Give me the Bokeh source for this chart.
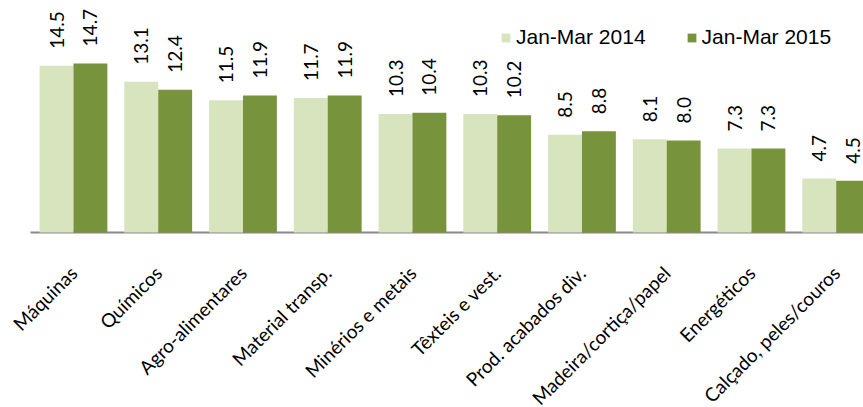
import math
from bokeh.plotting import figure
from bokeh.models import ColumnDataSource, Range1d, Legend, LegendItem
from bokeh.core.properties import value
from bokeh.embed import file_html
from bokeh.resources import INLINE

categories = ["Máquinas", "Químicos", "Agro-alimentares", "Material transp.",
              "Minérios e metais", "Têxteis e vest.", "Prod. acabados div.",
              "Madeira/cortiça/papel", "Energéticos", "Calçado, peles/couros"]
series_names = ["Jan-Mar 2014", "Jan-Mar 2015"]
values_2014 = [14.5, 13.1, 11.5, 11.7, 10.3, 10.3, 8.5, 8.1, 7.3, 4.7]
values_2015 = [14.7, 12.4, 11.9, 11.9, 10.4, 10.2, 8.8, 8.0, 7.3, 4.5]

LIGHT = "#D7E4BD"
DARK = "#77933C"
BAR_W = 0.40
AXIS_START, AXIS_END = -0.507, 9.322
idx = list(range(len(categories)))

src14 = ColumnDataSource(dict(x=[i - BAR_W / 2 for i in idx], top=values_2014,
                              label=[f"{v:.1f}" for v in values_2014]))
src15 = ColumnDataSource(dict(x=[i + BAR_W / 2 for i in idx], top=values_2015,
                              label=[f"{v:.1f}" for v in values_2015]))
cat_src = ColumnDataSource(dict(x=idx, y=[0] * len(idx), name=categories))

p = figure(width=863, height=407, output_backend="svg", toolbar_location=None,
           x_range=Range1d(-0.861, AXIS_END), y_range=Range1d(-15.22, 20.17),
           x_axis_location=None, y_axis_location=None,
           min_border_left=0, min_border_right=0,
           min_border_top=0, min_border_bottom=0)
p.outline_line_color = None
p.xgrid.visible = False
p.ygrid.visible = False
p.background_fill_color = "white"

# category axis baseline
p.segment(x0=[AXIS_START], y0=[0], x1=[AXIS_END], y1=[0],
          line_color="#898989", line_width=2, level="underlay")

r14 = p.vbar(x="x", top="top", width=BAR_W, bottom=0, source=src14,
             fill_color=LIGHT, line_color=None)
r15 = p.vbar(x="x", top="top", width=BAR_W, bottom=0, source=src15,
             fill_color=DARK, line_color=None)

for s in (src14, src15):
    p.text(x="x", y="top", text="label", source=s, angle=math.pi / 2,
           y_offset=-17, text_align="left", text_baseline="middle",
           text_font=value("Lato"), text_font_size="19px", text_color="#000000")

# category tick labels
p.text(x="x", y="y", text="name", source=cat_src, angle=math.pi / 4,
       x_offset=0, y_offset=37, text_align="right", text_baseline="middle",
       text_font=value("Lato"), text_font_size="19px", text_color="#000000")

legend = Legend(items=[LegendItem(label=series_names[0], renderers=[r14]),
                       LegendItem(label=series_names[1], renderers=[r15])],
                orientation="horizontal", location=(500, 358),
                glyph_width=11, glyph_height=11, label_standoff=5, spacing=40,
                padding=0, margin=0, border_line_color=None,
                background_fill_alpha=0,
                label_text_font="Liberation Sans", label_text_font_size="21px",
                label_text_color="#000000")
p.add_layout(legend, "center")

open("out.html", "w").write(file_html(p, INLINE))
